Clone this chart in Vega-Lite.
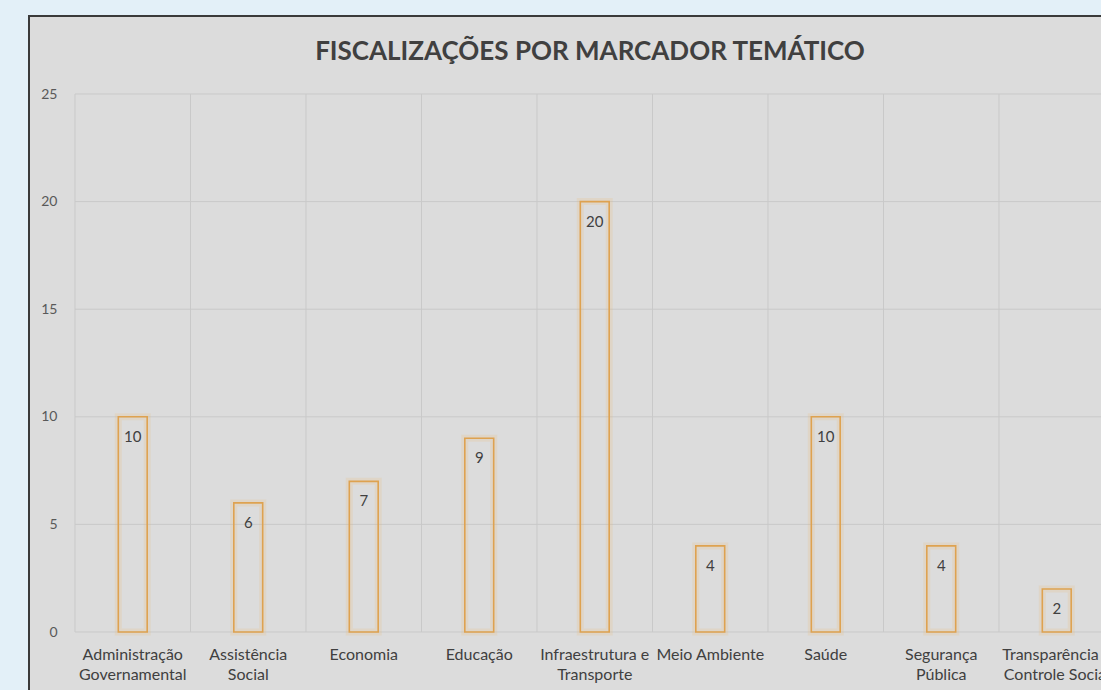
{
  "$schema": "https://vega.github.io/schema/vega-lite/v6.json",
  "autosize": {"type": "none"},
  "padding": {"left": 29, "top": 16, "right": -5, "bottom": -5},
  "width": 1077,
  "height": 679,
  "background": "#e3f0f8",
  "config": {
    "view": {"fill": "#dcdcdc", "stroke": "#3a3a3a", "strokeWidth": 2},
    "font": "Lato"
  },
  "title": {
    "text": "FISCALIZAÇÕES POR MARCADOR TEMÁTICO",
    "font": "Lato",
    "fontSize": 26,
    "fontWeight": "bold",
    "color": "#404040",
    "anchor": "start",
    "align": "center",
    "frame": "group",
    "orient": "top",
    "offset": -70,
    "baseline": "alphabetic",
    "dx": 561
  },
  "datasets": {
    "main": [
      {"marcador": "Administração Governamental", "fiscalizacoes": 10},
      {"marcador": "Assistência Social", "fiscalizacoes": 6},
      {"marcador": "Economia", "fiscalizacoes": 7},
      {"marcador": "Educação", "fiscalizacoes": 9},
      {"marcador": "Infraestrutura e Transporte", "fiscalizacoes": 20},
      {"marcador": "Meio Ambiente", "fiscalizacoes": 4},
      {"marcador": "Saúde", "fiscalizacoes": 10},
      {"marcador": "Segurança Pública", "fiscalizacoes": 4},
      {"marcador": "Transparência e Controle Social", "fiscalizacoes": 2}
    ],
    "ticks": [{"v": 0}, {"v": 5}, {"v": 10}, {"v": 15}, {"v": 20}, {"v": 25}]
  },
  "data": {"name": "main"},
  "encoding": {
    "x": {
      "field": "marcador",
      "type": "nominal",
      "sort": null,
      "scale": {"range": [46, 1085.5], "paddingInner": 0, "paddingOuter": 0},
      "axis": {
        "title": null,
        "orient": "bottom",
        "offset": -63,
        "domain": false,
        "ticks": false,
        "grid": false,
        "labelAngle": 0,
        "labelPadding": 14,
        "labelFont": "Lato",
        "labelFontSize": 16,
        "labelColor": "#404040",
        "labelLineHeight": 20,
        "labelLimit": 0,
        "labelOverlap": false,
        "labelBound": false,
        "labelBaseline": "top",
        "labelExpr": "datum.label == 'Administração Governamental' ? ['Administração','Governamental'] : datum.label == 'Assistência Social' ? ['Assistência','Social'] : datum.label == 'Infraestrutura e Transporte' ? ['Infraestrutura e','Transporte'] : datum.label == 'Segurança Pública' ? ['Segurança','Pública'] : datum.label == 'Transparência e Controle Social' ? ['Transparência e','Controle Social'] : datum.label"
      }
    },
    "y": {
      "field": "fiscalizacoes",
      "type": "quantitative",
      "scale": {"domain": [0, 25], "range": [616, 78], "nice": false, "zero": true},
      "axis": {
        "title": null,
        "orient": "left",
        "offset": -46,
        "values": [0, 5, 10, 15, 20, 25],
        "domain": false,
        "ticks": false,
        "grid": false,
        "labelPadding": 18,
        "labelFont": "Lato",
        "labelFontSize": 14,
        "labelColor": "#595959"
      }
    }
  },
  "layer": [
    {
      "mark": {"type": "rule", "color": "#c9c9c9", "strokeWidth": 1},
      "encoding": {
        "x": {"field": "marcador", "type": "nominal", "sort": null, "bandPosition": 0},
        "y": {"datum": 0},
        "y2": {"datum": 25}
      }
    },
    {
      "data": {"name": "ticks"},
      "mark": {"type": "rule", "color": "#c9c9c9", "strokeWidth": 1},
      "encoding": {
        "x": {"datum": "Administração Governamental", "bandPosition": 0},
        "x2": {"value": "width"},
        "y": {"field": "v", "type": "quantitative"}
      }
    },
    {
      "mark": {"type": "bar", "width": {"band": 0.25}, "fill": null, "fillOpacity": 0, "stroke": "#f0b460", "strokeWidth": 7, "strokeOpacity": 0.16}
    },
    {
      "mark": {"type": "bar", "width": {"band": 0.25}, "fill": null, "fillOpacity": 0, "stroke": "#dea250", "strokeWidth": 1.6}
    },
    {
      "mark": {"type": "text", "baseline": "middle", "align": "center", "dy": 20, "font": "Lato", "fontSize": 15, "color": "#404040"},
      "encoding": {"text": {"field": "fiscalizacoes", "type": "quantitative"}}
    }
  ]
}
